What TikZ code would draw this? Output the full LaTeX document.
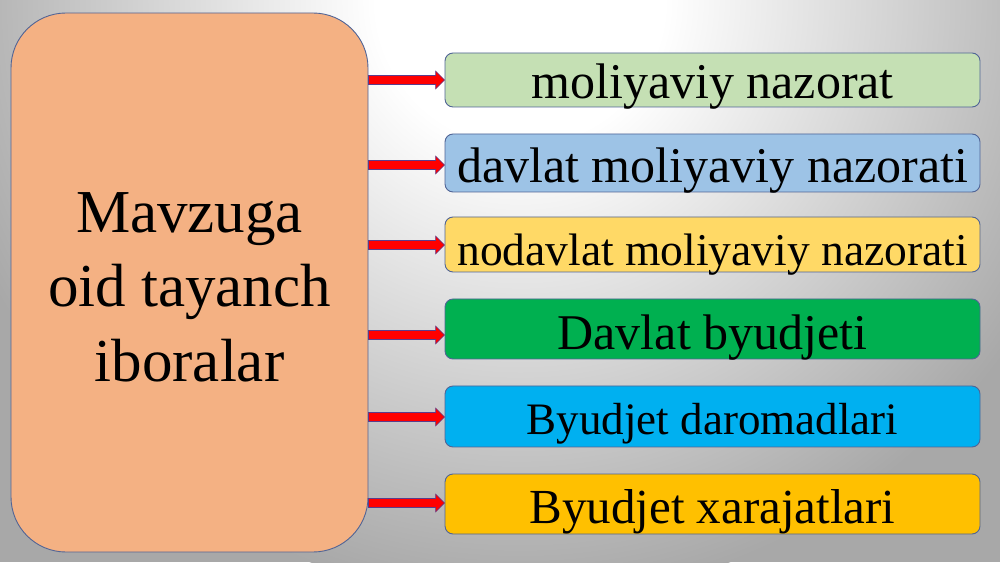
\documentclass[tikz,border=0pt]{standalone}
\usepackage{fontspec}
\setmainfont{Liberation Serif}
\usetikzlibrary{calc}
\definecolor{bggray}{RGB}{168,168,168}
\definecolor{peach}{HTML}{F4B183}
\definecolor{bord}{RGB}{80,100,150}
\definecolor{cA}{HTML}{C5E0B4}
\definecolor{cB}{HTML}{9DC3E6}
\definecolor{cC}{HTML}{FFD966}
\definecolor{cD}{HTML}{00B050}
\definecolor{cE}{HTML}{00B0F0}
\definecolor{cF}{HTML}{FFC000}
\definecolor{arrowline}{RGB}{90,60,140}
\pgfdeclareradialshading{bgshade}{\pgfpoint{0bp}{0bp}}{color(0bp)=(white); color(6bp)=(white); color(25bp)=(bggray); color(50bp)=(bggray)}
\newcommand\redarrow[2]{%
  \draw[arrowsty] let \p1=(big.east |- 0,#2), \p2=(#1.west |- 0,#2) in
    (\x1,\y1+4.5pt) -- (\x2-9pt,\y1+4.5pt) -- (\x2-9pt,\y1+9pt) -- (\x2,\y1)
    -- (\x2-9pt,\y1-9pt) -- (\x2-9pt,\y1-4.5pt) -- (\x1,\y1-4.5pt) -- cycle;}
\begin{document}
\begin{tikzpicture}[x=1pt,y=1pt,
  bigbox/.style={draw=bord, line width=0.9pt, fill=peach, rounded corners=55pt, inner sep=0pt},
  rbox/.style={draw=bord, line width=0.9pt, rounded corners=8pt, minimum width=535pt, inner sep=0pt},
  lbl/.style={inner sep=0pt, anchor=base, text=black},
  arrowsty/.style={fill=red, draw=arrowline, line width=0.6pt, line join=miter}]
\useasboundingbox (0,0) rectangle (1000,562);
\fill[bggray] (0,0) rectangle (1000,562);
\begin{scope}
\clip (0,0) rectangle (1000,562);
\shade[shading=bgshade] (520,562) circle (600);
\end{scope}

\node[bigbox, minimum width=357pt, minimum height=539pt] (big) at (189.5,279.5) {};
\node[inner sep=0pt, align=center, font=\fontsize{61}{74.5}\selectfont] (bigtext) at (189.5,274.7) {Mavzuga\\oid tayanch\\iboralar};

\node[rbox, fill=cA, minimum height=54pt] (b1) at (712.5,482) {};
\node[rbox, fill=cB, minimum height=58pt] (b2) at (712.5,399) {};
\node[rbox, fill=cC, minimum height=55pt] (b3) at (712.5,317.5) {};
\node[rbox, fill=cD, minimum height=60pt] (b4) at (712.5,233) {};
\node[rbox, fill=cE, minimum height=61pt] (b5) at (712.5,145.5) {};
\node[rbox, fill=cF, minimum height=60pt] (b6) at (712.5,58) {};

\node[lbl, font=\fontsize{50}{60}\selectfont] (t1) at ([yshift=-19pt]b1.center) {moliyaviy nazorat};
\node[lbl, font=\fontsize{50}{60}\selectfont] (t2) at ([yshift=-20pt]b2.center) {davlat moliyaviy nazorati};
\node[lbl, font=\fontsize{45.5}{55}\selectfont] (t3) at ([yshift=-21.5pt]b3.center) {nodavlat moliyaviy nazorati};
\node[lbl, font=\fontsize{50}{60}\selectfont] (t4) at ([yshift=-21pt]b4.center) {Davlat byudjeti};
\node[lbl, font=\fontsize{45}{55}\selectfont] (t5) at ([yshift=-18.5pt]b5.center) {Byudjet daromadlari};
\node[lbl, font=\fontsize{49}{59}\selectfont] (t6) at ([yshift=-19pt]b6.center) {Byudjet xarajatlari};

\redarrow{b1}{482}
\redarrow{b2}{397}
\redarrow{b3}{317}
\redarrow{b4}{227}
\redarrow{b5}{145}
\redarrow{b6}{59}
\end{tikzpicture}
\end{document}
